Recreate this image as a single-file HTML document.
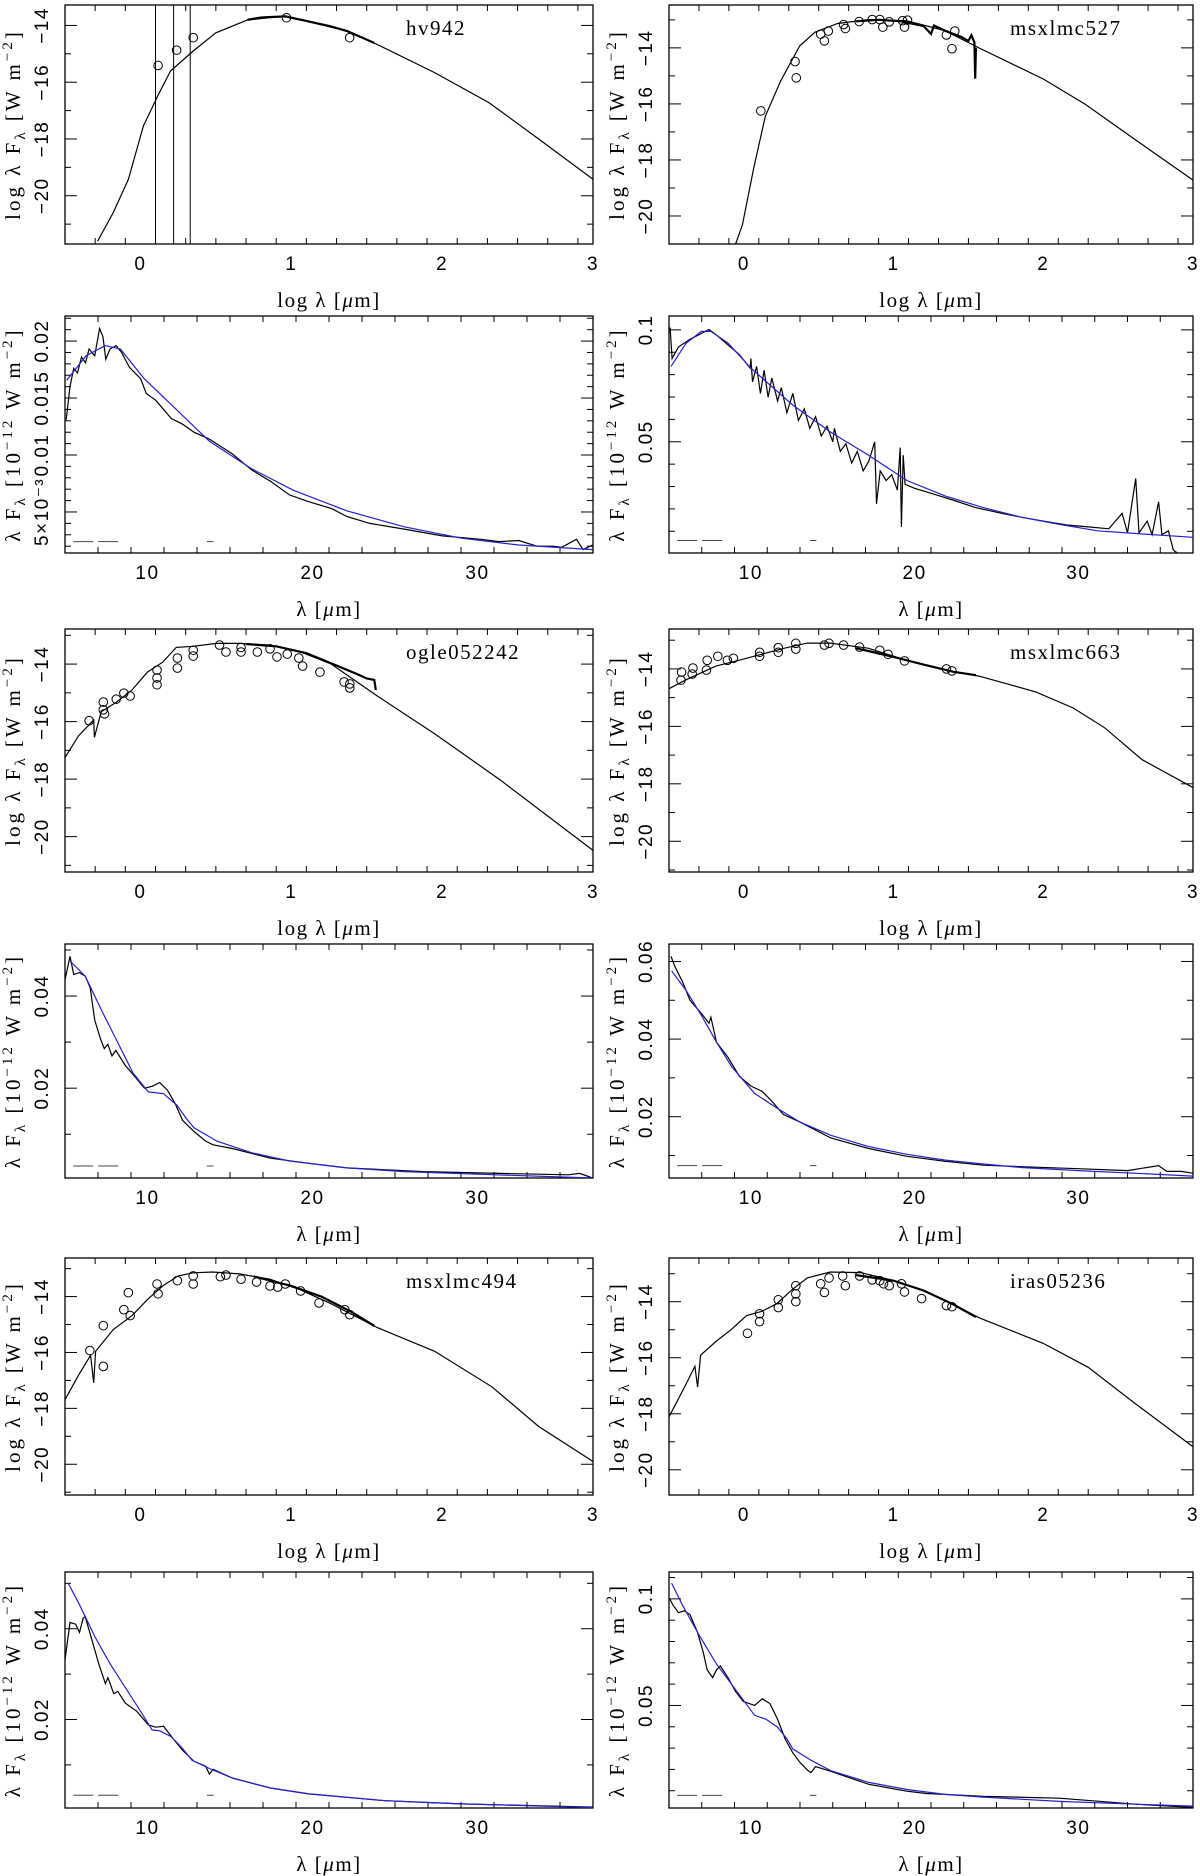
<!DOCTYPE html>
<html><head><meta charset="utf-8">
<style>
html,body{margin:0;padding:0;background:#fff;}
svg{display:block;}
.t{font-family:"Liberation Serif",serif;font-size:21px;fill:#000;letter-spacing:1.5px;}
.n{font-family:"Liberation Sans",sans-serif;font-size:19px;fill:#000;letter-spacing:1.5px;}
</style></head>
<body>
<svg id="fig" width="1200" height="1876" viewBox="0 0 1200 1876" xmlns="http://www.w3.org/2000/svg"></svg>
<script>
// ---------- data arrays ----------
const hv942Model=[[-0.284,-21.6],[-0.18,-20.59],[-0.08,-19.42],[0.02,-17.54],[0.12,-16.43],[0.2,-15.6],[0.35,-14.9],[0.5,-14.26],[0.71,-13.81],[0.96,-13.67],[1.37,-14.2],[1.57,-14.67],[1.95,-15.66],[2.31,-16.72],[2.64,-18.0],[3.0,-19.42]];
const hv942Phot=[[0.117,-15.41],[0.24,-14.87],[0.35,-14.43],[0.968,-13.73],[1.387,-14.43]];
const hv942Spec=[[0.71,-13.8],[0.8,-13.72],[0.96,-13.68],[1.1,-13.84],[1.25,-14.02],[1.37,-14.2],[1.5,-14.5],[1.55,-14.62]];
const hv942VLines=[0.10,0.22,0.33];
const m527Model=[[-0.055,-21.0],[-0.01,-20.32],[0.068,-18.24],[0.144,-16.43],[0.246,-15.18],[0.373,-13.93],[0.475,-13.44],[0.627,-13.13],[0.83,-12.99],[1.086,-13.03],[1.34,-13.38],[1.57,-14.0],[2.0,-15.11],[2.28,-16.01],[2.61,-17.26],[3.0,-18.72]];
const m527Phot=[[0.113,-16.25],[0.342,-14.49],[0.35,-15.07],[0.513,-13.51],[0.538,-13.75],[0.564,-13.4],[0.666,-13.17],[0.678,-13.31],[0.77,-13.06],[0.857,-12.99],[0.908,-12.99],[0.928,-13.26],[0.971,-13.07],[1.06,-13.03],[1.073,-13.26],[1.093,-13.01],[1.353,-13.54],[1.39,-14.03],[1.409,-13.4]];
const m527Spec=[[0.75,-13.05],[0.9,-13.0],[1.05,-13.05],[1.2,-13.22],[1.25,-13.5],[1.27,-13.2],[1.35,-13.4],[1.45,-13.6],[1.5,-13.75],[1.52,-13.55],[1.54,-13.8],[1.545,-15.1],[1.55,-14.0]];
const ogleModel=[[-0.5,-17.25],[-0.41,-16.49],[-0.31,-15.94],[-0.305,-16.55],[-0.26,-15.66],[-0.157,-15.32],[-0.056,-14.9],[0.046,-14.28],[0.148,-13.93],[0.237,-13.42],[0.35,-13.38],[0.503,-13.28],[0.656,-13.28],[0.859,-13.34],[1.062,-13.58],[1.265,-14.0],[1.57,-15.11],[1.95,-16.42],[2.383,-18.02],[3.0,-20.48]];
const oglePhot=[[-0.34,-15.97],[-0.246,-15.32],[-0.246,-15.59],[-0.238,-15.73],[-0.16,-15.22],[-0.11,-15.01],[-0.068,-15.11],[0.11,-14.21],[0.11,-14.48],[0.11,-14.72],[0.245,-13.79],[0.245,-14.14],[0.35,-13.52],[0.35,-13.72],[0.524,-13.34],[0.567,-13.58],[0.667,-13.42],[0.667,-13.58],[0.775,-13.58],[0.859,-13.47],[0.905,-13.75],[0.973,-13.65],[1.05,-13.79],[1.075,-14.07],[1.19,-14.28],[1.35,-14.62],[1.388,-14.69],[1.388,-14.83]];
const ogleSpec=[[0.7,-13.3],[0.9,-13.38],[1.1,-13.62],[1.3,-14.05],[1.45,-14.38],[1.5,-14.5],[1.55,-14.55],[1.56,-14.9]];
const m663Model=[[-0.5,-14.69],[-0.39,-14.39],[-0.187,-13.9],[-0.034,-13.7],[0.118,-13.49],[0.271,-13.28],[0.424,-13.1],[0.577,-13.1],[0.83,-13.28],[1.086,-13.7],[1.34,-14.04],[1.57,-14.25],[1.95,-14.8],[2.2,-15.36],[2.41,-16.05],[2.66,-17.16],[3.0,-18.13]];
const m663Phot=[[-0.42,-14.39],[-0.416,-14.11],[-0.345,-14.18],[-0.34,-13.97],[-0.25,-14.04],[-0.245,-13.7],[-0.174,-13.56],[-0.11,-13.7],[-0.07,-13.63],[0.105,-13.42],[0.105,-13.56],[0.23,-13.26],[0.23,-13.42],[0.347,-13.11],[0.347,-13.31],[0.538,-13.17],[0.569,-13.11],[0.666,-13.17],[0.773,-13.24],[0.908,-13.35],[0.963,-13.49],[1.073,-13.72],[1.353,-14.0],[1.39,-14.07]];
const m663Spec=[[0.75,-13.28],[1.0,-13.58],[1.2,-13.85],[1.4,-14.1],[1.55,-14.22]];
const m494Model=[[-0.5,-17.69],[-0.41,-16.81],[-0.33,-16.1],[-0.31,-17.09],[-0.297,-15.96],[-0.18,-15.18],[-0.055,-14.68],[0.046,-14.11],[0.148,-13.62],[0.25,-13.26],[0.35,-13.15],[0.478,-13.12],[0.656,-13.19],[0.859,-13.38],[1.062,-13.76],[1.265,-14.26],[1.57,-15.11],[1.95,-15.96],[2.33,-17.23],[2.64,-18.65],[3.0,-19.9]];
const m494Phot=[[-0.335,-15.93],[-0.246,-15.04],[-0.246,-16.5],[-0.11,-14.47],[-0.08,-13.86],[-0.068,-14.68],[0.11,-13.55],[0.117,-13.9],[0.245,-13.43],[0.35,-13.26],[0.35,-13.55],[0.53,-13.29],[0.567,-13.23],[0.667,-13.38],[0.77,-13.48],[0.859,-13.62],[0.91,-13.66],[0.96,-13.55],[1.062,-13.8],[1.184,-14.23],[1.355,-14.47],[1.388,-14.65]];
const m494Spec=[[0.75,-13.28],[1.0,-13.62],[1.2,-14.0],[1.4,-14.55],[1.55,-15.05]];
const irasModel=[[-0.5,-18.11],[-0.403,-17.12],[-0.327,-16.31],[-0.309,-17.05],[-0.289,-15.91],[-0.187,-15.42],[-0.085,-15.0],[0.017,-14.5],[0.118,-14.35],[0.22,-14.07],[0.322,-13.57],[0.424,-13.15],[0.577,-12.94],[0.78,-12.96],[0.984,-13.22],[1.19,-13.57],[1.39,-14.07],[1.57,-14.57],[2.0,-15.49],[2.3,-16.34],[2.61,-17.62],[3.0,-19.18]];
const irasPhot=[[0.024,-15.13],[0.105,-14.43],[0.105,-14.71],[0.23,-13.93],[0.23,-14.21],[0.347,-13.43],[0.347,-13.72],[0.347,-14.0],[0.513,-13.36],[0.538,-13.67],[0.569,-13.15],[0.66,-13.08],[0.678,-13.43],[0.773,-13.08],[0.857,-13.22],[0.908,-13.25],[0.933,-13.36],[0.971,-13.43],[1.053,-13.36],[1.073,-13.65],[1.187,-13.89],[1.353,-14.14],[1.39,-14.18]];
const irasSpec=[[0.75,-13.05],[1.0,-13.25],[1.2,-13.6],[1.4,-14.1],[1.55,-14.55]];

const hv942Fit=[[5.1,0.01655],[6.27,0.0187],[7.43,0.0196],[8.36,0.0193],[9.8,0.0167],[11.67,0.0141],[13.75,0.0112],[16.3,0.0088],[18.84,0.0069],[22.08,0.0051],[25.56,0.0037],[29.03,0.0027],[32.5,0.0021],[36.97,0.0017]];
const hv942Irs=[[5.07,0.0131],[5.3,0.016],[5.53,0.0176],[5.76,0.0172],[6.0,0.0186],[6.24,0.0181],[6.46,0.0193],[6.8,0.0187],[7.1,0.0211],[7.3,0.0204],[7.47,0.0184],[7.73,0.0193],[8.1,0.0196],[8.43,0.019],[8.9,0.0177],[9.58,0.0167],[9.93,0.0154],[10.5,0.0148],[11.44,0.0132],[12.13,0.0127],[12.82,0.012],[13.75,0.0114],[15.14,0.0101],[16.3,0.0087],[17.45,0.0077],[18.6,0.0065],[19.77,0.0059],[21.16,0.0053],[22.08,0.0046],[23.47,0.004],[25.56,0.0035],[27.87,0.0029],[30.2,0.0026],[31.3,0.0024],[32.5,0.0025],[33.6,0.002],[34.6,0.002],[35.1,0.0019],[36.0,0.0026],[36.4,0.0017],[36.97,0.0021]];
const m527Fit=[[5.12,0.0837],[6.05,0.0941],[6.98,0.0993],[7.56,0.0993],[8.6,0.0941],[10.0,0.0829],[12.56,0.0664],[14.88,0.0543],[17.2,0.0439],[19.53,0.0327],[21.86,0.0258],[24.19,0.0206],[26.5,0.0163],[28.84,0.0131],[31.16,0.0102],[33.5,0.009],[37.0,0.0073]];
const m527Irs=[[5.07,0.101],[5.19,0.0872],[5.58,0.0924],[6.28,0.0958],[6.98,0.0984],[7.44,0.1002],[7.91,0.0976],[8.6,0.0933],[9.3,0.0889],[9.95,0.0829],[10.0,0.0872],[10.1,0.0768],[10.35,0.0837],[10.58,0.0716],[10.81,0.082],[11.05,0.0699],[11.28,0.0785],[11.63,0.0682],[11.86,0.0742],[12.2,0.063],[12.56,0.0716],[12.9,0.0595],[13.26,0.0647],[13.6,0.056],[13.95,0.0612],[14.3,0.0526],[14.65,0.0569],[15.0,0.05],[15.1,0.056],[15.46,0.0457],[15.8,0.0491],[16.16,0.0405],[16.5,0.0457],[16.86,0.037],[17.2,0.0413],[17.56,0.05],[17.67,0.0223],[17.9,0.037],[18.26,0.0327],[18.6,0.0353],[18.95,0.0284],[19.12,0.0474],[19.19,0.0119],[19.3,0.044],[19.42,0.031],[20.0,0.0292],[21.16,0.0266],[22.33,0.024],[23.72,0.0206],[25.35,0.018],[26.5,0.0163],[27.9,0.0145],[29.3,0.0128],[30.7,0.0119],[31.86,0.0111],[32.67,0.018],[33.0,0.0093],[33.5,0.0336],[33.7,0.0093],[34.2,0.0145],[34.5,0.0085],[34.9,0.0232],[35.1,0.0085],[35.5,0.0102],[35.8,0.0016],[36.05,0.0003]];
const ogleFit=[[5.3,0.0476],[6.23,0.0443],[7.27,0.0365],[8.2,0.0299],[9.12,0.0233],[10.05,0.0192],[10.97,0.0188],[11.78,0.0163],[12.36,0.0134],[12.82,0.0114],[14.2,0.0085],[16.3,0.006],[18.6,0.0042],[22.08,0.0027],[25.56,0.0019],[30.2,0.0013],[36.97,0.0005]];
const ogleIrs=[[5.0,0.0435],[5.3,0.0486],[5.53,0.0447],[5.88,0.0451],[6.23,0.0443],[6.53,0.0418],[6.8,0.0348],[7.15,0.0307],[7.38,0.0286],[7.6,0.0295],[7.85,0.027],[8.08,0.0282],[8.66,0.0249],[9.24,0.0225],[9.82,0.02],[10.28,0.0204],[10.74,0.0212],[11.2,0.0196],[11.67,0.0167],[12.13,0.013],[12.82,0.0106],[13.52,0.0085],[13.75,0.0081],[13.98,0.0077],[15.14,0.0069],[17.45,0.0048],[19.77,0.0037],[22.08,0.0027],[26.72,0.0019],[31.35,0.0015],[35.5,0.0012],[36.2,0.0015],[36.97,0.0005]];
const m663Fit=[[5.16,0.0576],[6.05,0.0525],[6.98,0.0461],[7.9,0.0392],[8.84,0.0328],[10.23,0.026],[11.63,0.0221],[13.0,0.0186],[14.88,0.0152],[17.2,0.0123],[19.53,0.0103],[21.86,0.0088],[24.19,0.0078],[26.5,0.0069],[30.0,0.0061],[33.5,0.0054],[37.0,0.0047]];
const m663Irs=[[5.12,0.0613],[5.35,0.0588],[5.81,0.0549],[6.28,0.05],[6.98,0.0466],[7.44,0.0441],[7.56,0.0456],[7.9,0.0392],[8.6,0.0353],[9.3,0.0304],[10.0,0.0279],[10.7,0.0265],[11.28,0.024],[11.98,0.0206],[13.0,0.0186],[14.88,0.0145],[17.2,0.0118],[19.53,0.0098],[21.86,0.0085],[24.19,0.0075],[26.5,0.0071],[30.0,0.0066],[33.0,0.0061],[34.9,0.0074],[35.4,0.0059],[36.3,0.0059],[37.0,0.0054]];
const m494Fit=[[5.18,0.0501],[5.88,0.0453],[6.8,0.0383],[7.73,0.0323],[8.66,0.027],[9.58,0.0218],[10.28,0.0177],[10.74,0.0175],[11.44,0.0162],[12.13,0.0136],[12.7,0.011],[13.75,0.0092],[15.14,0.0071],[17.45,0.0049],[19.77,0.0036],[24.4,0.0021],[29.03,0.0014],[36.97,0.0006]];
const m494Irs=[[5.0,0.0331],[5.3,0.0414],[5.65,0.041],[5.88,0.0392],[6.1,0.0423],[6.22,0.0427],[6.57,0.0383],[7.04,0.0323],[7.45,0.0279],[7.6,0.0292],[7.96,0.0257],[8.2,0.0262],[8.66,0.0236],[9.35,0.0218],[10.05,0.0188],[10.5,0.0183],[10.97,0.0185],[11.55,0.0158],[12.13,0.0132],[12.82,0.0108],[13.52,0.0097],[13.75,0.008],[13.98,0.009],[15.14,0.0071],[17.45,0.0049],[19.77,0.0036],[24.4,0.0021],[29.03,0.0014],[36.97,0.0007]];
const irasFit=[[5.16,0.1074],[5.81,0.0972],[6.74,0.0843],[7.9,0.0694],[9.07,0.0574],[10.23,0.0454],[10.93,0.0435],[11.63,0.0398],[12.2,0.0343],[12.56,0.0296],[13.72,0.0241],[14.88,0.0194],[17.2,0.0139],[19.53,0.0106],[21.86,0.0083],[24.19,0.007],[28.84,0.005],[33.5,0.0037],[37.0,0.0028]];
const irasIrs=[[5.05,0.1],[5.23,0.0972],[5.58,0.0935],[5.93,0.0944],[6.28,0.0926],[6.74,0.0843],[7.09,0.075],[7.33,0.0667],[7.67,0.063],[7.9,0.0667],[8.14,0.0685],[8.6,0.063],[9.07,0.0565],[9.53,0.0519],[10.23,0.05],[10.7,0.0531],[11.16,0.0509],[11.63,0.0435],[12.09,0.0343],[12.56,0.0278],[13.02,0.0231],[13.49,0.0194],[13.67,0.0185],[13.95,0.0213],[14.88,0.0191],[17.2,0.013],[19.53,0.0098],[20.7,0.0087],[21.86,0.0083],[24.19,0.0074],[28.84,0.0065],[33.5,0.0037],[37.0,0.0022]];

const logXTicks=[0,1,2,3];
const logYTicks=[-14,-16,-18,-20];
const linXTicks=[10,20,30];
const p2YTicks=[0.005,0.01,0.015,0.02];
const p2YLabels=["5×10⁻³","0.01","0.015","0.02"];
const p4YTicks=[0.05,0.1];
const p6YTicks=[0.02,0.04];
const p8YTicks=[0.02,0.04,0.06];
const p10YTicks=[0.02,0.04];
const p12YTicks=[0.05,0.1];

const COLS=[[65,593],[669,1193]];
const ROWS=[[5,244],[316,553],[629,872],[944,1178],[1258,1495],[1572,1808]];
const panels=[
 {id:'hv942-sed',type:'log',c:0,r:0,yr:[-21.7,-13.28],model:hv942Model,phot:hv942Phot,spec:hv942Spec,vl:hv942VLines,name:'hv942'},
 {id:'msxlmc527-sed',type:'log',c:1,r:0,yr:[-21.0,-12.47],model:m527Model,phot:m527Phot,spec:m527Spec,name:'msxlmc527'},
 {id:'hv942-spectrum',type:'lin',c:0,r:1,yr:[0.0014,0.0222],irs:hv942Irs,fit:hv942Fit,yt:p2YTicks,yl:p2YLabels,minor:0.001,dashY:0.0024},
 {id:'msxlmc527-spectrum',type:'lin',c:1,r:1,yr:[0.0003,0.1062],irs:m527Irs,fit:m527Fit,yt:p4YTicks,minor:0.01,dashY:0.0059},
 {id:'ogle052242-sed',type:'log',c:0,r:2,yr:[-21.23,-12.78],model:ogleModel,phot:oglePhot,spec:ogleSpec,name:'ogle052242'},
 {id:'msxlmc663-sed',type:'log',c:1,r:2,yr:[-21.07,-12.61],model:m663Model,phot:m663Phot,spec:m663Spec,name:'msxlmc663'},
 {id:'ogle052242-spectrum',type:'lin',c:0,r:3,yr:[0.0005,0.0513],irs:ogleIrs,fit:ogleFit,yt:p6YTicks,minor:0.01,dashY:0.0031},
 {id:'msxlmc663-spectrum',type:'lin',c:1,r:3,yr:[0.0042,0.0645],irs:m663Irs,fit:m663Fit,yt:p8YTicks,minor:0.01,dashY:0.0074},
 {id:'msxlmc494-sed',type:'log',c:0,r:4,yr:[-21.1,-12.62],model:m494Model,phot:m494Phot,spec:m494Spec,name:'msxlmc494'},
 {id:'iras05236-sed',type:'log',c:1,r:4,yr:[-20.9,-12.44],model:irasModel,phot:irasPhot,spec:irasSpec,name:'iras05236'},
 {id:'msxlmc494-spectrum',type:'lin',c:0,r:5,yr:[0.0005,0.0525],irs:m494Irs,fit:m494Fit,yt:p10YTicks,minor:0.01,dashY:0.0033},
 {id:'iras05236-spectrum',type:'lin',c:1,r:5,yr:[0.0019,0.1126],irs:irasIrs,fit:irasFit,yt:p12YTicks,minor:0.01,dashY:0.0078}
];

const NS='http://www.w3.org/2000/svg';
const svg=document.getElementById('fig');
function mk(tag,attrs,parent){const e=document.createElementNS(NS,tag);for(const k in attrs)e.setAttribute(k,attrs[k]);(parent||svg).appendChild(e);return e;}
function fmt(v){return v.toString();}

panels.forEach(p=>{
  const L=COLS[p.c][0],R=COLS[p.c][1],T=ROWS[p.r][0],B=ROWS[p.r][1];
  const xr=p.type==='log'?[-0.5,3]:[5,37];
  const sx=v=>L+(v-xr[0])/(xr[1]-xr[0])*(R-L);
  const sy=v=>B-(v-p.yr[0])/(p.yr[1]-p.yr[0])*(B-T);
  const g=mk('g',{});
  
  
  const clipId='clip'+p.id;
  const cp=mk('clipPath',{id:clipId},g);mk('rect',{x:L,y:T,width:R-L,height:B-T},cp);
  const fr=mk('rect',{x:L,y:T,width:R-L,height:B-T,fill:'none',stroke:'#000','stroke-width':1.3},g);
  
  
  const tk=mk('g',{stroke:'#000','stroke-width':1},g);
  
  
  const xMinor=p.type==='log'?0.2:2, xMajor=p.type==='log'?1:10;
  for(let v=xr[0];v<=xr[1]+1e-9;v+=xMinor){
    const vv=Math.round(v*1000)/1000;const isM=Math.abs(vv/xMajor-Math.round(vv/xMajor))<1e-6;
    const len=isM?12:6;const x=sx(vv);
    mk('line',{x1:x,y1:B,x2:x,y2:B-len},tk);mk('line',{x1:x,y1:T,x2:x,y2:T+len},tk);
  }
  let yMinor,yMajorList;
  if(p.type==='log'){yMinor=1;yMajorList=logYTicks;}else{yMinor=p.minor;yMajorList=p.yt;}
  const y0=Math.ceil(p.yr[0]/yMinor-1e-9)*yMinor;
  for(let v=y0;v<=p.yr[1]+1e-12;v+=yMinor){
    const vv=Math.round(v*1e6)/1e6;const isM=yMajorList.some(m=>Math.abs(m-vv)<1e-7);
    const len=isM?12:6;const y=sy(vv);
    mk('line',{x1:L,y1:y,x2:L+len,y2:y},tk);mk('line',{x1:R,y1:y,x2:R-len,y2:y},tk);
  }
  const xl=p.type==='log'?logXTicks:linXTicks;
  xl.forEach(v=>{const t=mk('text',{x:sx(v),y:B+26,'text-anchor':'middle',class:'n'},g);t.textContent=fmt(v);
    
    });
  yMajorList.forEach((v,i)=>{
    const y=sy(v),x=L-17;
    const lab=p.type==='log'?('−'+Math.abs(v)):(p.yl?p.yl[i]:fmt(v));
    const t=mk('text',{x:x,y:y,'text-anchor':'middle',class:'n',transform:`rotate(-90 ${x} ${y})`},g);t.textContent=lab;
    
    
  });
  const xt=mk('text',{x:(L+R)/2,y:B+63,'text-anchor':'middle',class:'t'},g);
  xt.innerHTML=p.type==='log'?'log  λ  [<tspan font-style="italic">μ</tspan>m]':'λ  [<tspan font-style="italic">μ</tspan>m]';
  
  
  xt.setAttribute('xml:space','preserve');
  const tx=L-45,ty=(T+B)/2;
  const yt=mk('text',{x:tx,y:ty,'text-anchor':'middle',class:'t',style:'letter-spacing:3px',transform:`rotate(-90 ${tx} ${ty})`},g);
  yt.innerHTML=(p.type==='log'?'log λ F':'λ F')+'<tspan dy="5" font-size="15">λ</tspan><tspan dy="-5">'+(p.type==='log'?' [W  m':' [10</tspan><tspan dy="-8" font-size="15">−12</tspan><tspan dy="8"> W  m')+'</tspan><tspan dy="-8" font-size="15">−2</tspan><tspan dy="8">]</tspan>';
  
  
  const plot=mk('g',{'clip-path':`url(#${clipId})`},g);
  const path=(arr)=>arr.map((d,i)=>(i?'L':'M')+sx(d[0]).toFixed(1)+' '+sy(d[1]).toFixed(1)).join(' ');
  if(p.type==='log'){
    if(p.vl)p.vl.forEach(v=>{const l=mk('line',{x1:sx(v),y1:T,x2:sx(v),y2:B,stroke:'#000','stroke-width':1},plot);
      
      });
    const m=mk('path',{d:path(p.model),fill:'none',stroke:'#000','stroke-width':1.2},plot);
    
    
    const s=mk('path',{d:path(p.spec),fill:'none',stroke:'#000','stroke-width':2.2},plot);
    
    
    p.phot.forEach(d=>{const c=mk('circle',{cx:sx(d[0]),cy:sy(d[1]),r:4.3,fill:'none',stroke:'#000','stroke-width':1},plot);
      
      });
    const nm=mk('text',{x:L+341,y:T+30,class:'t','font-size':'21'},g);nm.textContent=p.name;
    
    
  }else{
    const d1=mk('path',{d:`M${sx(5.5)} ${sy(p.dashY)} L${sx(8.4)} ${sy(p.dashY)} M${sx(13.6)} ${sy(p.dashY)} L${sx(14.0)} ${sy(p.dashY)}`,fill:'none',stroke:'#444','stroke-width':1,'stroke-dasharray':'20 5'},plot);
    
    
    const b=mk('path',{d:path(p.irs),fill:'none',stroke:'#000','stroke-width':1.2},plot);
    
    
    const f=mk('path',{d:path(p.fit),fill:'none',stroke:'#2222cc','stroke-width':1.2},plot);
    
    
  }
});
</script>
</body></html>
